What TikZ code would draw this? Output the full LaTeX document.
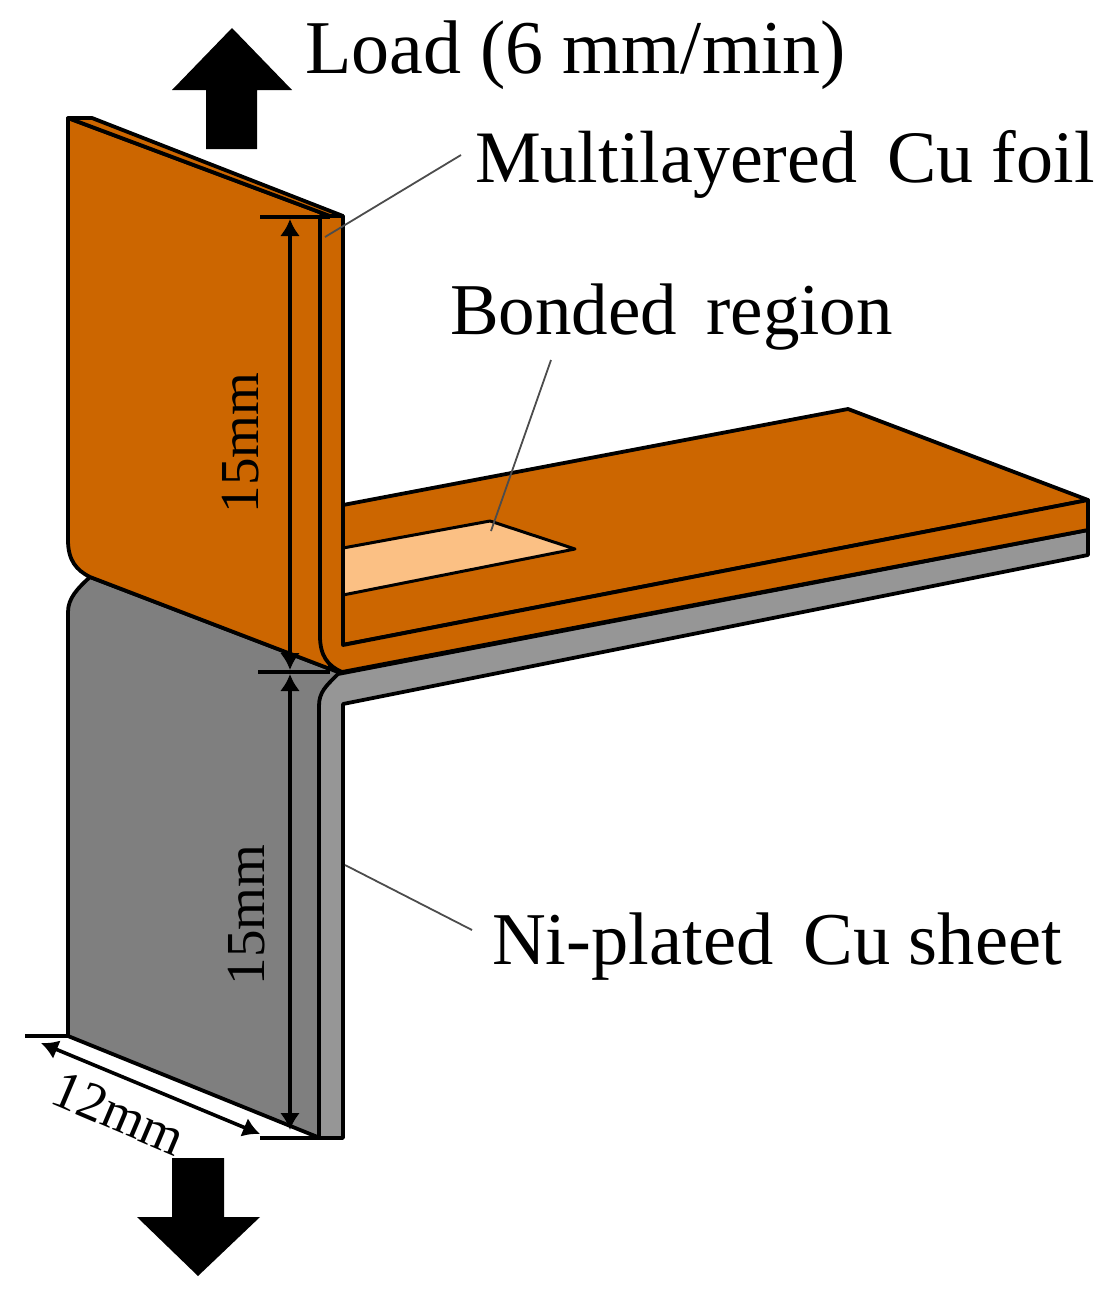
\documentclass[tikz,border=0pt]{standalone}
\usepackage{fontspec}
\setmainfont{Liberation Serif}
\usetikzlibrary{arrows.meta}
\definecolor{cuor}{HTML}{CC6600}
\definecolor{bond}{HTML}{FBC084}
\definecolor{panelg}{HTML}{7F7F7F}
\definecolor{stripg}{HTML}{969696}
\tikzset{
  part/.style={draw=black,line width=3.8pt,line join=round},
  dimline/.style={draw=black,line width=3.6pt},
  dimarrow/.style={dimline,{Latex[length=17pt,width=20pt]}-{Latex[length=17pt,width=20pt]}},
  tick/.style={draw=black,line width=3.6pt},
  leader/.style={draw=black!70,line width=1.8pt},
  bigarrow/.style={fill=black,draw=none},
  lab/.style={inner sep=0pt,anchor=base west},
  dimlab/.style={inner sep=0pt,font=\fontsize{55}{58}\selectfont}
}
\begin{document}
\begin{tikzpicture}[x=1pt,y=-1pt]
\useasboundingbox (0,0) rectangle (1113,1306);
% grey back panel
\draw[part,fill=panelg] (68,612) .. controls (68,598) and (78,588) .. (90,577) -- (338,672) -- (320,1138) -- (68,1036) -- cycle;
% grey sheet strip
\draw[part,fill=stripg] (338,674) -- (1088,530) -- (1088,555) -- (343,704) -- (343,1138) -- (319,1138) -- (319,706) .. controls (319,692) and (326,686) .. (338,674) -- cycle;
% orange panel
\draw[part,fill=cuor] (68,118) -- (330,216) -- (330,669) -- (90,577) .. controls (76,570) and (68,560) .. (68,540) -- cycle;
% top thin strip
\draw[part,fill=cuor] (68,118) -- (92,118) -- (343,216) -- (330,216) -- cycle;
% horizontal foil
\draw[part,fill=cuor] (343,505) -- (848,409) -- (1088,500) -- (342,645) -- cycle;
% foil front
\draw[part,fill=cuor] (320,216) -- (343,216) -- (343,645) -- (1088,500) -- (1088,530) -- (342,672) .. controls (328,666) and (320,656) .. (320,636) -- cycle;
% bonded region
\draw[part,fill=bond,line width=3pt] (343,548) -- (490,521) -- (575,549) -- (343,595) -- cycle;
\draw[black,line width=3.8pt] (343,505) -- (343,645);
% dimension ticks
\draw[tick] (260,217) coordinate (t1a) -- (330,217) coordinate (t1b);
\draw[tick] (258,672) coordinate (t2a) -- (330,672) coordinate (t2b);
\draw[tick] (260,1138) coordinate (t3a) -- (320,1138) coordinate (t3b);
\draw[tick] (25,1036) coordinate (t4a) -- (68,1036) coordinate (t4b);
\coordinate (d1a) at (290,219);
\coordinate (d1b) at (290,670);
\coordinate (d2a) at (290,674);
\coordinate (d2b) at (290,1130);
\coordinate (d3a) at (41,1043);
\coordinate (d3b) at (260,1134);
\draw[dimarrow] (d1a) -- (d1b);
\draw[dimarrow] (d2a) -- (d2b);
\draw[dimarrow] (d3a) -- (d3b);
% load arrows
\path[bigarrow] (232,28) -- (292,90) -- (257,90) -- (257,149) -- (206,149) -- (206,90) -- (172,90) -- cycle;
\path[bigarrow] (172,1158) -- (224,1158) -- (224,1217) -- (260,1217) -- (198,1276) -- (137,1217) -- (172,1217) -- cycle;
% labels
\node[lab,font=\fontsize{76}{80}\selectfont] (load) at (305,74) {Load (6 mm/min)};
\node[lab,font=\fontsize{74}{78}\selectfont] (multi) at (475,182) {Multilayered\hspace{0.15em} Cu foil};
\node[lab,font=\fontsize{73}{77}\selectfont] (bonded) at (450,334) {Bonded\hspace{0.15em} region};
\node[lab,font=\fontsize{74.5}{78}\selectfont] (ni) at (492,964) {Ni-plated\hspace{0.15em} Cu sheet};
\node[dimlab,rotate=90] (dimA) at (241,443) {15mm};
\node[dimlab,rotate=90] (dimB) at (247,915) {15mm};
\node[dimlab,rotate=-23,font=\fontsize{54}{56}\selectfont] (dimC) at (119,1113) {12mm};
% leaders
\coordinate (la) at (325,237);
\coordinate (lat) at (461,155);
\coordinate (lb) at (491,531);
\coordinate (lbt) at (551,360);
\coordinate (lc) at (345,865);
\coordinate (lct) at (472,930);
\draw[leader] (lat) -- (la);
\draw[leader] (lbt) -- (lb);
\draw[leader] (lct) -- (lc);
\end{tikzpicture}
\end{document}
